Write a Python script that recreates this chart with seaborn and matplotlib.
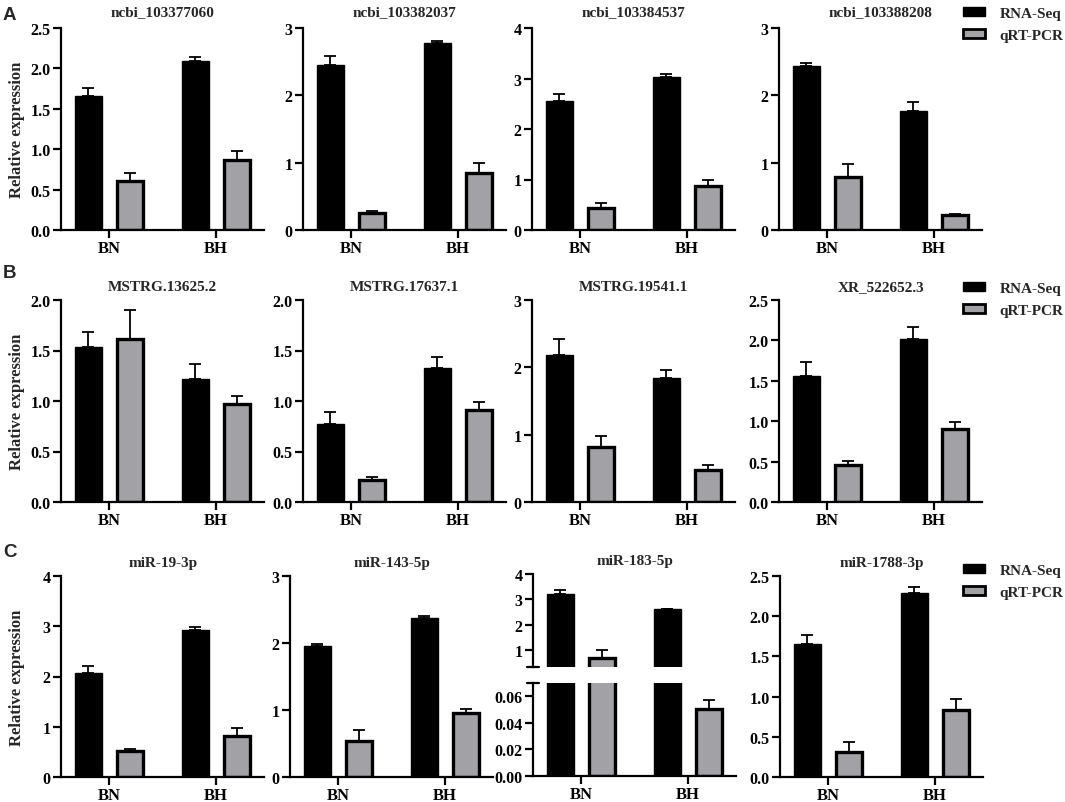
import numpy as np
import pandas as pd
import matplotlib
matplotlib.use("Agg")
import matplotlib.pyplot as plt
from matplotlib.patches import Patch
from matplotlib.ticker import FormatStrFormatter
import seaborn as sns

# ── Data ─────────────────────────────────────────────────────────────────────
groups  = ["BN", "BH"]
methods = ["RNA-Seq", "qRT-PCR"]

row_a_titles   = ["ncbi_103377060", "ncbi_103382037", "ncbi_103384537", "ncbi_103388208"]
row_a_rna      = [[1.655, 2.09], [2.45, 2.775], [2.56, 3.02], [2.43, 1.77]]
row_a_rna_err  = [[0.10, 0.05], [0.14, 0.03], [0.13, 0.07], [0.05, 0.135]]
row_a_qpcr     = [[0.604, 0.87], [0.25, 0.84], [0.445, 0.87], [0.79, 0.224]]
row_a_qpcr_err = [[0.096, 0.11], [0.03, 0.15], [0.095, 0.12], [0.185, 0.016]]
row_a_ymax     = [2.5, 3, 4, 3]
row_a_ystep    = [0.5, 1, 1, 1]

row_b_titles   = ["MSTRG.13625.2", "MSTRG.17637.1", "MSTRG.19541.1", "XR_522652.3"]
row_b_rna      = [[1.534, 1.22], [0.777, 1.329], [2.18, 1.84], [1.556, 2.016]]
row_b_rna_err  = [[0.149, 0.142], [0.116, 0.106], [0.24, 0.12], [0.174, 0.154]]
row_b_qpcr     = [[1.617, 0.975], [0.215, 0.906], [0.81, 0.48], [0.464, 0.898]]
row_b_qpcr_err = [[0.283, 0.07], [0.03, 0.084], [0.165, 0.07], [0.046, 0.095]]
row_b_ymax     = [2.0, 2.0, 3, 2.5]
row_b_ystep    = [0.5, 0.5, 1, 0.5]

row_c_titles   = ["miR-19-3p", "miR-143-5p", "miR-183-5p", "miR-1788-3p"]
row_c_rna      = [[2.063, 2.92], [1.95, 2.37], [3.2, 2.62], [1.654, 2.29]]
row_c_rna_err  = [[0.147, 0.07], [0.03, 0.04], [0.15, 0.01], [0.112, 0.078]]
row_c_qpcr     = [[0.51, 0.81], [0.54, 0.95], [0.70, 0.0508], [0.314, 0.83]]
row_c_qpcr_err = [[0.04, 0.17], [0.16, 0.066], [0.30, 0.0062], [0.116, 0.144]]
row_c_ymax     = [4, 3, None, 2.5]
row_c_ystep    = [1, 1, None, 0.5]

# broken axis panel (miR-183-5p)
broken_top_ylim     = (0.33, 4)
broken_top_ticks    = [1, 2, 3, 4]
broken_bottom_ylim  = (0, 0.07)
broken_bottom_ticks = [0.0, 0.02, 0.04, 0.06]

BLACK = "#000000"
GRAY  = "#a2a2a6"

# ── Style ────────────────────────────────────────────────────────────────────
sns.set_theme(style="ticks")
plt.rcParams["font.family"] = ["Liberation Serif", "DejaVu Serif"]
plt.rcParams["font.weight"] = "bold"
plt.rcParams["axes.linewidth"] = 1.6
plt.rcParams["xtick.major.width"] = 1.6
plt.rcParams["ytick.major.width"] = 1.6
plt.rcParams["xtick.major.size"] = 6
plt.rcParams["ytick.major.size"] = 6
plt.rcParams["xtick.major.pad"] = 1.5
plt.rcParams["ytick.major.pad"] = 1.5
plt.rcParams["xtick.labelsize"] = 12
plt.rcParams["ytick.labelsize"] = 11.5
plt.rcParams["xtick.color"] = "black"
plt.rcParams["ytick.color"] = "black"
plt.rcParams["axes.edgecolor"] = "black"

W, H = 1065, 803
SPACING = 107          # px between BN and BH
XLIM = (-0.45, 1.45)
AX_W = (XLIM[1] - XLIM[0]) * SPACING

fig = plt.figure(figsize=(W / 100, H / 100), dpi=100)
fig.patch.set_facecolor("white")


def rect(x0, ytop, ybot):
    return [x0 / W, 1 - ybot / H, AX_W / W, (ybot - ytop) / H]


def draw_bars(ax, rna, rna_err, qpcr, qpcr_err):
    df = pd.DataFrame({
        "group":  groups * 2,
        "method": [methods[0]] * 2 + [methods[1]] * 2,
        "value":  list(rna) + list(qpcr),
    })
    sns.barplot(data=df, x="group", y="value", hue="method", order=groups,
                hue_order=methods, palette=[BLACK, GRAY], width=0.78, gap=0.36,
                errorbar=None, legend=False, edgecolor="black", linewidth=1,
                saturation=1, ax=ax)
    errs = [rna_err, qpcr_err]
    for k, (cont, err) in enumerate(zip(ax.containers, errs)):
        for i, bar in enumerate(cont):
            if k == 1:
                bar.set_linewidth(2.4)
            xc = bar.get_x() + bar.get_width() / 2
            ax.errorbar(xc, bar.get_height(), yerr=[[0], [err[i]]], fmt="none",
                        ecolor="black", elinewidth=1.3, capsize=4, capthick=1.3,
                        zorder=1)
    ax.set_xlim(*XLIM)
    ax.set_xlabel("")
    ax.set_ylabel("")
    for lab in ax.get_xticklabels():
        lab.set_fontweight("bold")


def style_y(ax, ymax, step):
    ax.set_ylim(0, ymax)
    ax.set_yticks(np.arange(0, ymax + step / 2, step))
    if step < 1:
        ax.yaxis.set_major_formatter(FormatStrFormatter("%.1f"))
    else:
        ax.yaxis.set_major_formatter(FormatStrFormatter("%d"))
    sns.despine(ax=ax)


rows = [
    dict(titles=row_a_titles, rna=row_a_rna, rna_err=row_a_rna_err, qpcr=row_a_qpcr,
         qpcr_err=row_a_qpcr_err, ymax=row_a_ymax, ystep=row_a_ystep,
         spines=[61, 303, 532, 779], top=29, bottom=231,
         pad=9, letter="A", letter_y=20, legend_y=8),
    dict(titles=row_b_titles, rna=row_b_rna, rna_err=row_b_rna_err, qpcr=row_b_qpcr,
         qpcr_err=row_b_qpcr_err, ymax=row_b_ymax, ystep=row_b_ystep,
         spines=[61, 303, 532, 779], top=301, bottom=503,
         pad=7, letter="B", letter_y=278, legend_y=283),
    dict(titles=row_c_titles, rna=row_c_rna, rna_err=row_c_rna_err, qpcr=row_c_qpcr,
         qpcr_err=row_c_qpcr_err, ymax=row_c_ymax, ystep=row_c_ystep,
         spines=[61, 290, 533, 780], top=577, bottom=778,
         pad=7, letter="C", letter_y=557, legend_y=565),
]

for row in rows:
    for j in range(4):
        x0 = row["spines"][j]
        title = row["titles"][j]
        if row["ymax"][j] is None:
            # broken y axis
            ax_t = fig.add_axes(rect(x0, 575, 668))
            ax_b = fig.add_axes(rect(x0, 684, 777))
            for ax in (ax_t, ax_b):
                draw_bars(ax, row["rna"][j], row["rna_err"][j],
                          row["qpcr"][j], row["qpcr_err"][j])
                sns.despine(ax=ax)
            ax_t.set_ylim(*broken_top_ylim)
            ax_t.set_yticks(broken_top_ticks)
            ax_t.yaxis.set_major_formatter(FormatStrFormatter("%d"))
            ax_t.spines["bottom"].set_visible(False)
            ax_t.tick_params(axis="x", bottom=False, labelbottom=False)
            ax_b.set_ylim(*broken_bottom_ylim)
            ax_b.set_yticks(broken_bottom_ticks)
            ax_b.yaxis.set_major_formatter(FormatStrFormatter("%.2f"))
            ax_t.plot([-0.03, 0.03], [0, 0], transform=ax_t.transAxes,
                      color="black", lw=1.6, clip_on=False)
            ax_b.plot([-0.03, 0.03], [1, 1], transform=ax_b.transAxes,
                      color="black", lw=1.6, clip_on=False)
            for ax in (ax_t, ax_b):
                for lab in ax.get_yticklabels():
                    lab.set_fontweight("bold")
            ax_t.set_title(title, fontsize=11, fontweight="bold", pad=row["pad"])
            continue
        ax = fig.add_axes(rect(x0, row["top"], row["bottom"]))
        draw_bars(ax, row["rna"][j], row["rna_err"][j],
                  row["qpcr"][j], row["qpcr_err"][j])
        style_y(ax, row["ymax"][j], row["ystep"][j])
        for lab in ax.get_yticklabels():
            lab.set_fontweight("bold")
        ax.set_title(title, fontsize=11, fontweight="bold", pad=row["pad"])
        if j == 0:
            ax.set_ylabel("Relative expression", fontsize=12, fontweight="bold")
            ax.yaxis.set_label_coords((25 - x0) / AX_W, 0.5)

    fig.text(3 / W, 1 - row["letter_y"] / H, row["letter"], fontsize=13.5,
             fontweight="bold", family=["Liberation Sans", "DejaVu Sans"],
             ha="left", va="baseline")

    handles = [Patch(facecolor=BLACK, edgecolor=BLACK, linewidth=1),
               Patch(facecolor=GRAY, edgecolor=BLACK, linewidth=2)]
    fig.legend(handles, methods, loc="upper left",
               bbox_to_anchor=(963 / W, 1 - row["legend_y"] / H),
               frameon=False, borderaxespad=0, borderpad=0,
               handlelength=1.45, handleheight=0.5,
               handletextpad=0.95, labelspacing=0.6,
               prop=dict(family="Liberation Serif", weight="bold", size=11))

fig.savefig("out.png", dpi=100, facecolor="white")
